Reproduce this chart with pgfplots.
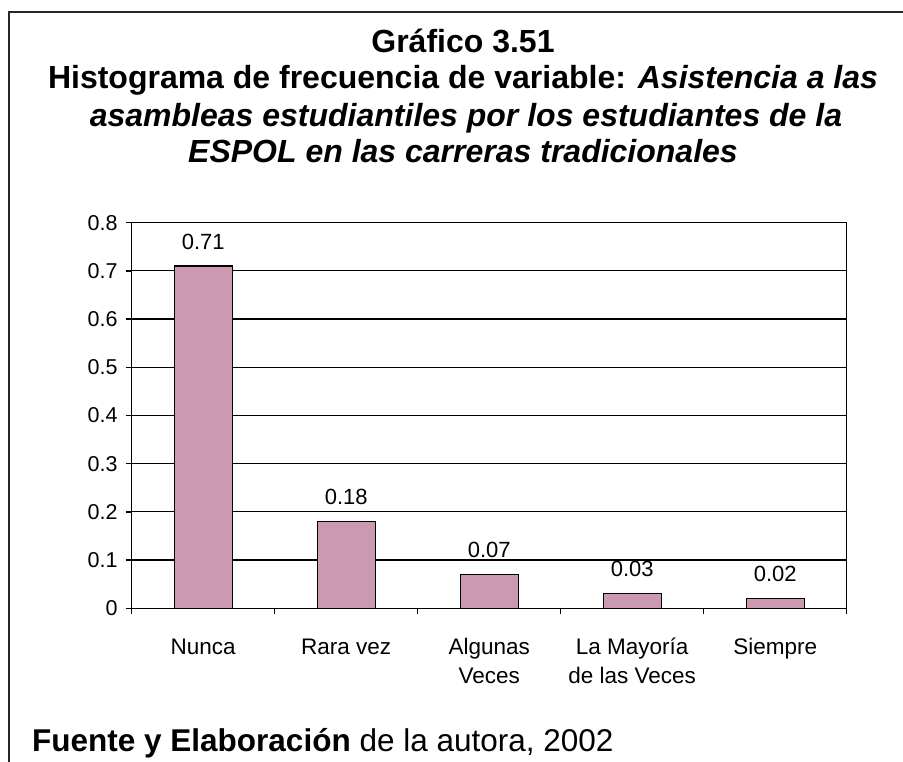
\documentclass[border=0pt]{standalone}
\usepackage{pgfplots}
\pgfplotsset{compat=1.18}
\usepackage{fontspec}
\setmainfont{Liberation Sans}
\definecolor{barfill}{RGB}{204,153,179}
\newcommand{\tl}{\rule{0pt}{22pt}}
\begin{document}
\begin{tikzpicture}
\begin{axis}[
  at={(131.7pt,153.7pt)}, anchor=south west,
  scale only axis, width=715pt, height=385.6pt,
  xmin=-0.5, xmax=4.5, ymin=0, ymax=0.8,
  ytick={0,0.1,0.2,0.3,0.4,0.5,0.6,0.7,0.8},
  yticklabels={0,0.1,0.2,0.3,0.4,0.5,0.6,0.7,0.8},
  xtick={0,1,2,3,4},
  xticklabels={\tl Nunca, \tl Rara vez, \tl Algunas\\Veces, \tl La Mayoría\\de las Veces, \tl Siempre},
  minor xtick={-0.5,0.5,1.5,2.5,3.5,4.5},
  tick align=outside, tick pos=left,
  major tick length=6pt, minor tick length=6pt,
  major x tick style={draw=none},
  tick style={black, line width=1.5pt},
  ymajorgrids, grid style={black, line width=1.2pt},
  axis line style={black, line width=1.5pt},
  xticklabel style={align=center, anchor=north, inner sep=0pt, yshift=-18pt, font=\fontsize{22.5}{29}\selectfont},
  yticklabel style={anchor=east, inner sep=0pt, xshift=-8pt, font=\fontsize{21.5}{26}\selectfont},
  /pgf/number format/assume math mode=true,
  ybar, bar width=58pt,
  nodes near coords={\pgfmathprintnumber[fixed,fixed zerofill,precision=2]{\pgfplotspointmeta}},
  every node near coord/.append style={inner sep=0pt, yshift=16pt, font=\fontsize{22}{27}\selectfont, black},
]
\addplot[fill=barfill, draw=black, line width=1.3pt] coordinates {(0,0.71) (1,0.18) (2,0.07) (3,0.03) (4,0.02)};
\end{axis}
\begin{scope}[x=1pt,y=1pt]
\draw[line width=2pt, black!85] (9,0) -- (9,749.7) -- (903,749.7);
\begin{scope}[every node/.style={anchor=base, inner sep=0pt, font=\fontsize{32}{38}\selectfont\bfseries}]
\node at (463,709.3) {Gráfico 3.51};
\node at (463,673.5) {Histograma de frecuencia de variable: \textit{Asistencia a las}};
\node at (466,635.5) {\itshape asambleas estudiantiles por los estudiantes de la};
\node at (463,599) {\itshape ESPOL en las carreras tradicionales};
\end{scope}
\node[anchor=base west, inner sep=0pt, font=\fontsize{31.5}{36}\selectfont] at (32,10) {\textbf{Fuente y Elaboración} de la autora, 2002};
\pgfresetboundingbox
\useasboundingbox (0,0) rectangle (903,762);
\end{scope}
\end{tikzpicture}
\end{document}
